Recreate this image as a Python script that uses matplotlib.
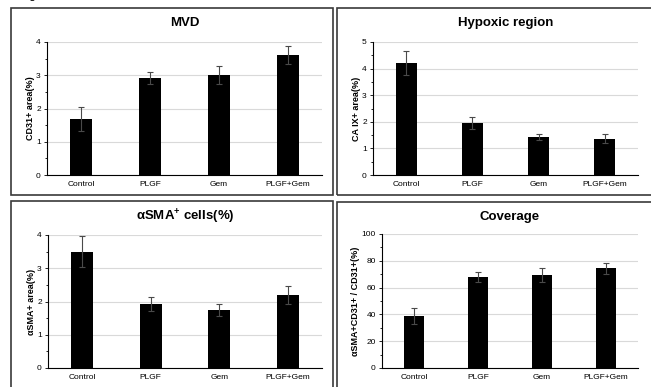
import matplotlib.pyplot as plt
from matplotlib.patches import Rectangle
from matplotlib.ticker import MultipleLocator

plt.rcParams['font.family'] = ['Liberation Sans', 'DejaVu Sans']
plt.rcParams['mathtext.default'] = 'regular'

groups = ["Control", "PLGF", "Gem", "PLGF+Gem"]

mvd = [1.68, 2.93, 3.01, 3.60]
mvd_err = [0.37, 0.18, 0.28, 0.27]

hypoxic = [4.22, 1.95, 1.43, 1.37]
hypoxic_err = [0.45, 0.23, 0.13, 0.16]

asma = [3.50, 1.93, 1.74, 2.20]
asma_err = [0.47, 0.21, 0.17, 0.27]

coverage = [38.5, 68.0, 69.5, 74.5]
coverage_err = [6.0, 4.0, 5.0, 4.0]

W, H = 651, 387
fig = plt.figure(figsize=(W / 100, H / 100), dpi=100)


def px_axes(left, right, top, bottom):
    return fig.add_axes([left / W, 1 - bottom / H, (right - left) / W, (bottom - top) / H])


def panel_box(x0, y0, x1, y1):
    fig.patches.append(Rectangle((x0 / W, 1 - y1 / H), (x1 - x0) / W, (y1 - y0) / H,
                                 transform=fig.transFigure, fill=False,
                                 edgecolor='#3a3a3a', lw=1.2))


panel_box(11, 8, 333, 195)
panel_box(337, 8, 660, 195)
panel_box(11, 201, 333, 400)
panel_box(337, 202, 660, 400)

# cropped-off figure label, only the descender shows
fig.text(0.049, 1.012, "g", fontsize=9, va='center', ha='center')

panels = [
    ((47, 322, 42, 175), mvd, mvd_err, 4, 1, "MVD", "CD31+ area(%)", 23),
    ((373, 638, 42, 175), hypoxic, hypoxic_err, 5, 1, "Hypoxic region", "CA IX+ area(%)", 23),
    ((48, 322, 235, 368), asma, asma_err, 4, 1, r"αSMA$^{+}$ cells(%)", "αSMA+ area(%)", 217),
    ((382, 638, 234, 368), coverage, coverage_err, 100, 20, "Coverage", "αSMA+CD31+ / CD31+(%)", 217),
]

for (l, r, t, b), vals, errs, ymax, step, title, ylab, ty in panels:
    ax = px_axes(l, r, t, b)
    x = range(len(groups))
    ax.bar(x, vals, width=0.32, color='black', zorder=3)
    ax.errorbar(x, vals, yerr=errs, fmt='none', ecolor='#4a4a4a', elinewidth=0.8,
                capsize=2, capthick=0.8, zorder=4)
    ax.set_xlim(-0.5, len(groups) - 0.5)
    ax.set_ylim(0, ymax)
    ax.yaxis.set_major_locator(MultipleLocator(step))
    ax.yaxis.set_minor_locator(MultipleLocator(step / 2))
    ax.grid(axis='y', color='#d9d9d9', lw=0.8, zorder=0)
    ax.set_xticks(list(x))
    ax.set_xticklabels(groups, fontsize=6)
    ax.tick_params(axis='x', length=0, pad=4)
    ax.tick_params(axis='y', which='major', labelsize=6, length=2.5, width=0.6, pad=2)
    ax.tick_params(axis='y', which='minor', length=1.5, width=0.6)
    for s in ['top', 'right']:
        ax.spines[s].set_visible(False)
    ax.spines['left'].set_linewidth(0.8)
    ax.spines['bottom'].set_linewidth(0.8)
    ax.set_ylabel(ylab, fontsize=6.5, fontweight='bold', labelpad=1)
    fig.text((l + r) / 2 / W, 1 - ty / H, title, fontsize=9.5, fontweight='bold',
             ha='center', va='center')

fig.savefig('out.png', dpi=100)
